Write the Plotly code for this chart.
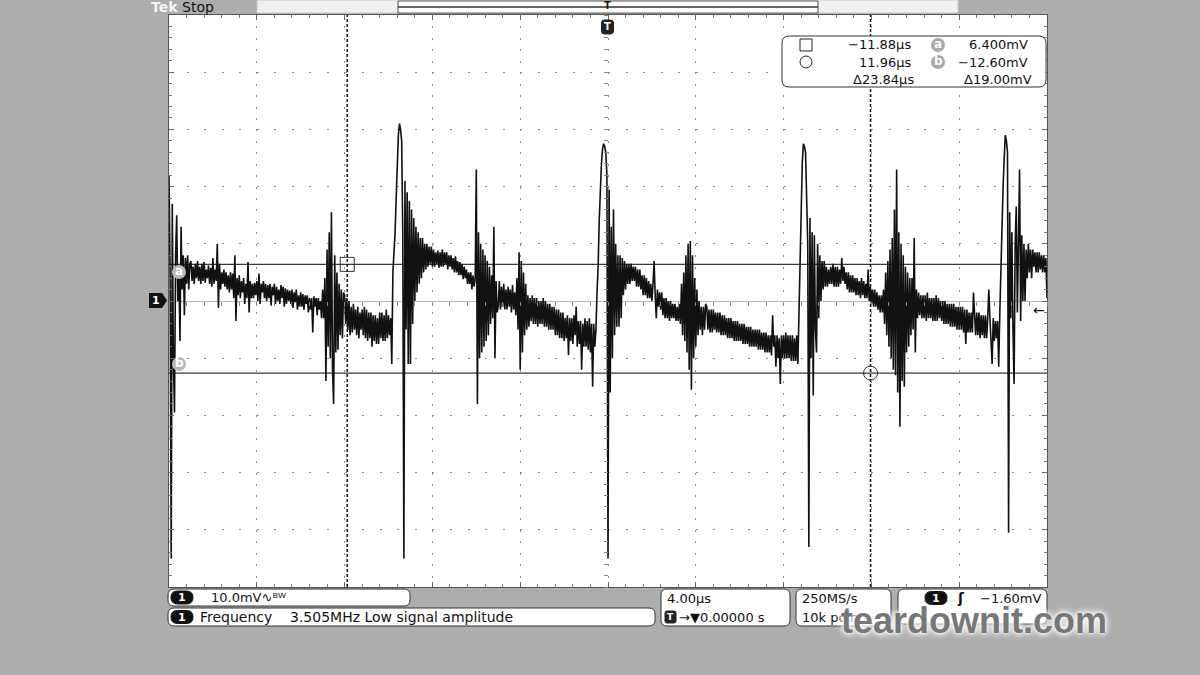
import plotly.graph_objects as go

# scope settings
T_START = -20.0        # µs, left edge (4 µs/div, 10 div)
SAMPLE_STEP = 0.05     # µs between plotted samples
T_RANGE = [-20, 20]
V_RANGE = [-50, 50]    # mV (10 mV/div, 10 div)

cursor_t = [-11.88, 11.96]   # µs
cursor_v = [6.4, -12.6]      # mV
trigger_level = -1.6         # mV

# CH1 trace (mV); one row = 0.5 µs
ch1_part1 = [
    22.0, 5.0, -45.0, 17.0, -10.0, -19.5, 8.0, 15.0, 0.0, 5.0,
    -7.0, 13.0, 2.0, 8.0, -2.5, 7.5, 3.0, 8.0, 2.0, 6.5,
    7.0, 3.5, 6.0, 3.0, 6.5, 4.0, 7.0, 3.5, 6.0, 3.0,
    6.5, 3.5, 6.8, 3.2, 5.5, 4.0, 6.2, 3.0, 5.8, 2.5,
    7.5, 3.0, 5.5, 3.5, 10.0, -1.2, 6.5, 2.0, 5.0, 3.0,
    5.5, 2.5, 5.0, 2.0, 4.5, 1.5, 5.0, 2.0, 4.8, 0.5,
    8.0, -3.5, 4.0, 1.0, 4.5, 0.5, 3.5, 1.5, 4.0, -0.5,
    3.0, 0.5, 6.8, -2.0, 3.5, 0.5, 3.0, 0.5, 3.2, 1.0,
    3.5, 0.0, 4.8, -0.5, 3.0, 1.5, 3.5, 0.5, 3.0, 0.0,
    2.8, 0.5, 3.0, -0.8, 2.5, 1.0, 3.0, -0.5, 2.5, 0.0,
    2.0, -0.5, 2.8, 0.5, 2.5, -1.0, 2.2, -0.5, 2.0, 0.0,
    1.8, -0.5, 2.0, -1.2, 1.5, -0.2, 2.0, -1.5, 1.0, -1.0,
    1.5, -1.0, 1.2, -1.5, 1.0, -0.5, 1.0, -2.0, 0.5, -1.5,
    0.5, -5.5, 0.8, -1.0, 0.5, -2.5, 0.5, -1.5, 0.0, -3.0,
    2.0, -3.0, 4.0, -14.0, 9.0, -8.0, 12.0, -10.0, 15.5, -12.0,
    -18.0, 8.0, -9.0, 5.0, -8.5, 3.0, -6.0, 2.0, -6.5, 1.5,
    1.0, -4.0, 0.5, -5.0, 0.0, -6.0, -1.0, -5.5, -0.5, -5.0,
    -1.5, -6.0, -1.0, -6.5, -2.0, -5.0, -1.5, -6.0, -1.0, -6.5,
    -1.5, -7.0, -2.0, -6.5, -2.0, -8.0, -2.5, -7.0, -2.5, -7.5,
    -3.0, -7.5, -2.0, -6.5, -2.0, -7.0, -2.5, -7.0, -1.5, -6.5,
]
ch1_part2 = [
    -2.5, -6.0, -3.0, -11.0, 5.0, 8.0, 12.0, 18.0, 25.0, 29.0,
    31.0, 30.0, 28.0, 12.0, -45.0, 21.0, -5.0, 19.0, -11.0, 17.5,
    -11.0, 16.0, -4.0, 14.5, 0.0, 13.0, 1.5, 12.0, 3.0, 11.0,
    4.0, 11.0, 5.0, 10.0, 5.5, 10.0, 6.0, 9.5, 6.5, 9.5,
    6.0, 9.0, 6.0, 8.5, 6.5, 8.8, 5.8, 8.5, 6.0, 9.0,
    6.0, 8.5, 6.5, 8.5, 5.5, 8.0, 6.0, 8.0, 5.5, 7.5,
    5.0, 7.8, 5.0, 7.0, 4.5, 6.8, 4.5, 6.5, 3.8, 6.0,
    4.0, 5.5, 3.0, 5.0, 3.0, 5.0, 2.0, 4.5, 2.5, 4.0,
    23.0, -18.0, 12.0, -10.0, 10.0, -9.0, 9.0, -8.0, 8.0, -7.0,
    7.0, -6.0, 6.0, -4.0, 4.5, -3.0, 13.0, -10.0, 3.5, -2.0,
    -1.0, 3.5, -1.5, 2.5, -1.0, 3.0, -1.5, 2.0, -1.5, 2.5,
    -1.0, 2.0, -2.0, 2.8, -1.5, 1.5, -2.5, 4.0, -5.0, 8.5,
    -12.0, 7.0, -9.0, 5.0, -6.0, 3.0, -5.0, 1.0, -4.5, 0.5,
    -3.5, 1.0, -4.0, 0.5, -4.0, 0.5, -4.5, 0.0, -4.0, 0.0,
    -4.0, 0.5, -4.5, 0.0, -4.5, -0.5, -5.0, -0.5, -5.0, -1.0,
    -5.0, -1.0, -6.0, -1.5, -6.0, -1.5, -6.5, -2.0, -6.5, -2.0,
    -7.0, -3.0, -6.5, -2.5, -9.5, -3.0, -7.0, -3.0, -7.5, -2.5,
    -6.0, -1.0, -8.0, -3.5, -7.5, -3.5, -12.0, -4.0, -8.0, -3.0,
    -8.0, -3.5, -8.5, -3.0, -9.0, -4.0, -15.0, -4.0, -8.0, -5.0,
    1.5, 6.0, 14.0, 20.0, 24.0, 26.5, 27.5, 27.0, 26.0, 22.0,
]
ch1_part3 = [
    -45.0, 19.5, -16.0, 13.0, -10.0, 16.0, -6.0, 10.0, -4.5, 8.0,
    -4.5, 8.0, -3.0, 7.5, 1.0, 7.0, 2.0, 6.5, 3.0, 6.5,
    3.0, 6.5, 3.5, 6.0, 3.5, 6.0, 2.5, 5.5, 2.5, 5.5,
    2.0, 4.5, 1.0, 4.5, 1.0, 4.0, 0.5, 3.5, 0.5, 3.0,
    0.0, 3.0, 7.0, 1.0, -3.0, 2.0, -1.0, 1.5, -1.5, 1.5,
    -2.5, 0.5, -3.0, 0.5, -3.0, 0.0, -3.5, 0.0, -3.0, -0.5,
    -3.0, -0.5, -3.5, -1.0, -3.5, -0.5, -4.0, 3.0, -6.0, 5.0,
    -7.0, 8.0, -9.0, 10.0, -12.0, 10.5, -15.5, 8.0, -10.0, 4.0,
    -8.0, 2.0, -6.0, 0.0, -5.0, -1.0, -6.0, -1.0, -5.0, -0.5,
    -1.0, -5.0, -1.5, -5.5, -1.5, -5.5, -1.5, -5.0, -2.0, -5.5,
    -2.0, -5.5, -2.0, -6.0, -2.5, -6.0, -2.5, -6.0, -3.0, -6.5,
    -3.0, -6.5, -3.0, -6.5, -3.5, -7.0, -3.5, -7.0, -3.5, -7.0,
    -4.0, -7.0, -4.0, -7.5, -4.0, -7.5, -4.5, -7.5, -4.5, -8.0,
    -4.5, -8.0, -5.0, -8.0, -5.0, -8.0, -5.0, -8.5, -5.0, -8.5,
    -5.5, -8.5, -5.5, -9.0, -5.5, -9.0, -6.0, -9.0, -6.0, -9.5,
    -2.5, -8.0, -6.0, -11.5, -6.0, -10.0, -6.5, -14.5, -6.0, -10.0,
    -6.0, -10.0, -5.5, -10.0, -6.0, -10.0, -6.0, -10.5, -6.0, -10.5,
    -6.5, -10.5, -6.0, -11.0, -1.0, 8.0, 18.0, 24.0, 27.5, 27.0,
    26.0, 20.0, 10.0, -43.0, 14.5, -10.0, 12.0, -16.5, 11.5, -5.0,
    -9.0, 10.0, -3.0, 8.0, 0.0, 7.0, 2.0, 7.0, 2.5, 6.0,
]
ch1_part4 = [
    2.5, 5.5, 3.0, 6.0, 3.0, 6.5, 2.5, 6.0, 2.5, 6.0,
    2.5, 5.5, 3.0, 7.5, 3.5, 6.0, 3.0, 5.0, 2.0, 5.0,
    1.5, 4.5, 1.5, 4.5, 1.5, 4.0, 1.0, 4.0, 1.0, 3.5,
    0.5, 4.0, 1.0, 3.5, 0.5, 3.0, 0.5, 5.5, 0.0, 2.5,
    -0.5, 2.0, -1.0, 2.0, -1.0, 1.5, -1.5, 1.0, -2.0, 1.0,
    -2.0, 2.0, -4.0, 5.0, -6.0, 7.0, -8.0, 9.0, -10.0, 11.0,
    -12.0, 16.0, -13.0, 23.0, -16.0, 12.0, -22.0, 10.0, -14.0, 8.0,
    -15.0, 6.0, -9.0, 5.0, -8.0, 4.0, -6.0, 4.0, -5.0, 11.0,
    -9.0, 2.0, -3.0, 1.5, -2.5, 1.0, -3.0, 1.0, -3.0, 1.0,
    -3.5, 1.5, -3.0, 0.5, -3.0, 0.5, -3.5, 0.5, -3.5, 1.0,
    -3.5, 0.5, -3.0, 0.0, -3.5, 0.0, -4.0, 0.0, -4.0, -0.5,
    -4.0, -0.5, -4.5, -0.5, -4.5, -0.5, -4.5, -1.0, -5.0, -1.0,
    -5.0, -1.0, -5.0, -1.0, -5.5, -1.5, -7.5, -1.5, -5.5, -2.0,
    -5.5, -2.0, -5.5, 1.5, -3.0, -6.0, -2.0, -6.0, -2.0, -6.5,
    -2.5, -6.0, -2.5, -6.5, -2.5, -6.5, -3.0, 2.0, -3.0, -6.5,
    -11.0, -3.0, -7.0, -3.5, -6.5, -3.5, -11.5, -2.0, 7.0, 14.0,
    20.0, 25.0, 29.0, 28.0, 26.0, -40.5, 15.5, -3.0, 12.0, -5.0,
    -14.5, 10.0, 16.5, -2.0, 8.0, 23.0, -3.5, 11.5, 0.0, 10.0,
    0.0, 9.0, 4.0, 10.0, 5.0, 9.0, 4.0, 9.0, 6.0, 8.5,
    5.0, 8.5, 5.0, 8.5, 5.5, 8.0, 5.0, 8.0, 5.0, 7.5,
    0.5,
]
ch1 = ch1_part1 + ch1_part2 + ch1_part3 + ch1_part4

# screen geometry (pixels) of the graticule
L, R, T, B = 169, 1047, 15, 587
FONT = "DejaVu Sans"


def fx(px):
    return (px - L) / (R - L)


def fy(py):
    return (B - py) / (B - T)


def rounded_path(x0, y0, x1, y1, r):
    return (
        f"M{fx(x0 + r)},{fy(y0)} L{fx(x1 - r)},{fy(y0)} Q{fx(x1)},{fy(y0)} {fx(x1)},{fy(y0 + r)} "
        f"L{fx(x1)},{fy(y1 - r)} Q{fx(x1)},{fy(y1)} {fx(x1 - r)},{fy(y1)} "
        f"L{fx(x0 + r)},{fy(y1)} Q{fx(x0)},{fy(y1)} {fx(x0)},{fy(y1 - r)} "
        f"L{fx(x0)},{fy(y0 + r)} Q{fx(x0)},{fy(y0)} {fx(x0 + r)},{fy(y0)} Z"
    )


shapes = []
annotations = []


def text(px, py, s, anchor="left", size=13, color="#111", bold=False, **kw):
    annotations.append(dict(
        x=fx(px), y=fy(py), xref="paper", yref="paper", text=f"<b>{s}</b>" if bold else s,
        showarrow=False, xanchor=anchor, yanchor="middle",
        font=dict(family=FONT, size=size, color=color), **kw))


def box(x0, y0, x1, y1, r=6, fill="white", line="#333"):
    shapes.append(dict(type="path", path=rounded_path(x0, y0, x1, y1, r),
                       xref="paper", yref="paper", fillcolor=fill,
                       line=dict(color=line, width=1), layer="above"))


def pill(cx, cy, label, w=22, h=13):
    box(cx - w / 2, cy - h / 2, cx + w / 2, cy + h / 2, r=h / 2, fill="#111", line="#111")
    text(cx, cy, label, anchor="center", size=11, color="white", bold=True)


def badge(cx, cy, label, fill="#b9b9b9"):
    shapes.append(dict(type="circle", xref="paper", yref="paper",
                       x0=fx(cx - 7), x1=fx(cx + 7), y0=fy(cy + 7), y1=fy(cy - 7),
                       fillcolor=fill, line=dict(width=0), layer="above"))
    text(cx, cy - 1, label, anchor="center", size=12, color="white", bold=True)


fig = go.Figure()
fig.add_trace(go.Scatter(
    x0=T_START, dx=SAMPLE_STEP, y=ch1, mode="lines",
    line=dict(color="#111", width=1.6), hoverinfo="skip", showlegend=False,
))
fig.add_trace(go.Scatter(
    x=cursor_t, y=cursor_v, mode="markers",
    marker=dict(symbol=["square-open", "circle-open"], size=14, color="#333",
                line=dict(width=1)),
    showlegend=False,
))
# invisible trace so the centre crosshair axes get drawn
fig.add_trace(go.Scatter(x=[None], y=[None], xaxis="x2", yaxis="y2", showlegend=False))

# cursors
for v in cursor_v:
    shapes.append(dict(type="line", xref="x", yref="y", x0=T_RANGE[0], x1=T_RANGE[1], y0=v, y1=v,
                       line=dict(color="#3a3a3a", width=1.3), layer="below"))
for t in cursor_t:
    shapes.append(dict(type="line", xref="x", yref="y", x0=t, x1=t, y0=V_RANGE[0], y1=V_RANGE[1],
                       line=dict(color="#111", width=1.5, dash="3px,2px"), layer="below"))

# cursor labels on the left edge
badge(179, 272, "a")
badge(179, 364, "b")

# channel 1 ground marker
shapes.append(dict(type="path", xref="paper", yref="paper", fillcolor="#111", line=dict(width=0),
                   path=f"M{fx(149)},{fy(293)} L{fx(162)},{fy(293)} L{fx(167)},{fy(300.5)} "
                        f"L{fx(162)},{fy(308)} L{fx(149)},{fy(308)} Z"))
text(156, 300.5, "1", anchor="center", size=11, color="white", bold=True)

# trigger level arrow
annotations.append(dict(x=T_RANGE[1], y=trigger_level, xref="x", yref="y", text="←",
                        showarrow=False, xanchor="right", yanchor="middle",
                        font=dict(family=FONT, size=14, color="#111")))

# top status line and record bar
text(149, 7, "Tek", size=14, color="#f4f4f4", bold=True)
text(180, 7, "Stop", size=14, color="#111")
shapes.append(dict(type="rect", xref="paper", yref="paper", x0=fx(257), x1=fx(958), y0=fy(13), y1=fy(0),
                   fillcolor="#f0f0f0", line=dict(color="#c8c8c8", width=1)))
shapes.append(dict(type="rect", xref="paper", yref="paper", x0=fx(398), x1=fx(818), y0=fy(13), y1=fy(1),
                   fillcolor="white", line=dict(color="#555", width=1)))
shapes.append(dict(type="line", xref="paper", yref="paper", x0=fx(398), x1=fx(818), y0=fy(7), y1=fy(7),
                   line=dict(color="#333", width=1.5)))
text(607.5, 6, "T", anchor="center", size=10, color="#222", bold=True)
box(601.5, 20, 613.5, 34, r=3, fill="#222", line="#222")
text(607.5, 27, "T", anchor="center", size=10, color="white", bold=True)

# cursor readout
box(782, 36, 1046, 87, r=7)
shapes.append(dict(type="rect", xref="paper", yref="paper", x0=fx(800), x1=fx(812), y0=fy(51), y1=fy(39),
                   line=dict(color="#222", width=1), layer="above"))
shapes.append(dict(type="circle", xref="paper", yref="paper", x0=fx(800), x1=fx(812), y0=fy(68), y1=fy(56),
                   line=dict(color="#222", width=1), layer="above"))
text(913, 45, f"\u2212{abs(cursor_t[0]):.2f}µs", anchor="right")
text(913, 62, f"{cursor_t[1]:.2f}µs", anchor="right")
text(916, 79, f"Δ{cursor_t[1] - cursor_t[0]:.2f}µs", anchor="right")
badge(938, 45, "a", fill="#a8a8a8")
badge(938, 62, "b", fill="#a8a8a8")
text(1030, 45, f"{cursor_v[0]:.3f}mV", anchor="right")
text(1030, 62, f"\u2212{abs(cursor_v[1]):.2f}mV", anchor="right")
text(1034, 79, f"Δ{cursor_v[0] - cursor_v[1]:.2f}mV", anchor="right")

# bottom readouts
box(168, 589, 410, 606)
pill(182, 597.5, "1")
text(209, 597.5, "10.0mV∿ᴮᵂ")
box(168, 608, 655, 626)
pill(182, 617, "1")
text(198, 617, "Frequency", size=14)
text(288, 617, "3.505MHz Low signal amplitude", size=14)
box(661, 589, 790, 626)
text(665, 598, "4.00µs")
box(665, 611, 676, 623, r=2, fill="#222", line="#222")
text(670.5, 617, "T", anchor="center", size=9, color="white", bold=True)
text(677, 617, "→▼0.00000 s")
box(796, 589, 891, 626)
text(800, 598, "250MS/s")
text(800, 617, "10k points")
box(898, 589, 1047, 624)
pill(936, 598, "1")
text(955, 598, "ʃ", size=14, bold=True)
text(1044, 598, f"\u2212{abs(trigger_level):.2f}mV", anchor="right")

# watermark
annotations.append(dict(
    x=fx(974), y=fy(620), xref="paper", yref="paper", text="<b>teardownit.com</b>",
    showarrow=False, xanchor="center", yanchor="middle",
    font=dict(family="Liberation Sans", size=36, color="#777777",
              shadow="0px 0px 3px #ffffff, 0px 0px 6px #ffffff, 0px 0px 9px #ffffff"),
))

grid = dict(showticklabels=False, showline=True, linecolor="#555", linewidth=1, mirror="ticks",
            ticks="inside", ticklen=5, tickcolor="#666", gridcolor="#8c8c8c", gridwidth=1.2,
            fixedrange=True)
fig.update_layout(
    width=1200, height=675,
    margin=dict(l=L, r=1200 - R, t=T, b=675 - B),
    paper_bgcolor="#adadad", plot_bgcolor="white",
    xaxis=dict(range=T_RANGE, tick0=0, dtick=4, zeroline=False, griddash="2px,9.44px",
               minor=dict(dtick=0.8, ticks="inside", ticklen=3, tickcolor="#777", showgrid=False),
               **grid),
    yaxis=dict(range=V_RANGE, tick0=0, dtick=10, zeroline=True, zerolinecolor="#b8b8b8",
               zerolinewidth=1.3, griddash="2px,15.56px",
               minor=dict(dtick=2, ticks="inside", ticklen=3, tickcolor="#777", showgrid=False),
               **grid),
    xaxis2=dict(overlaying="x", anchor="free", position=0.5, range=T_RANGE, showgrid=False,
                zeroline=False, showline=False, showticklabels=False, ticks="outside",
                tick0=0, dtick=0.8, ticklen=4, tickcolor="#888", fixedrange=True),
    yaxis2=dict(overlaying="y", anchor="free", position=0.5, range=V_RANGE, showgrid=False,
                zeroline=False, showline=False, showticklabels=False, ticks="outside",
                tick0=0, dtick=2, ticklen=4, tickcolor="#888", fixedrange=True),
    shapes=shapes,
    annotations=annotations,
    showlegend=False,
)

# drop the page's default body margin so the figure sits at the window's corner
fig.write_html("out.html", config={"displayModeBar": False},
               post_script="document.body.style.margin='0';")
